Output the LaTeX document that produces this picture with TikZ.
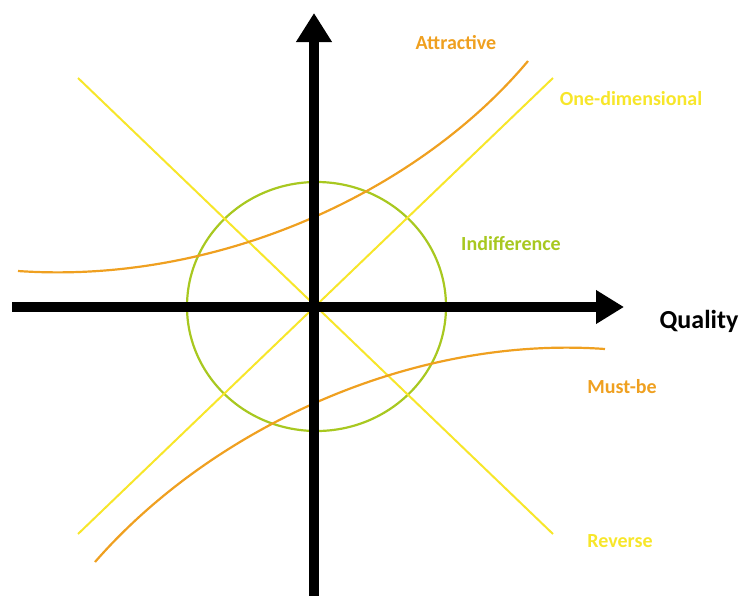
\documentclass[tikz,border=0pt]{standalone}
\usepackage{fontspec}
\setmainfont{Carlito}
\usetikzlibrary{arrows.meta}
\definecolor{kanoorange}{HTML}{EFA020}
\definecolor{kanoyellow}{HTML}{F7E62A}
\definecolor{kanogreen}{HTML}{A8C820}
\tikzset{
  axis/.style={line width=10pt, black},
  curveline/.style={line width=2.2pt, kanoorange},
  straightline/.style={line width=2pt, kanoyellow},
  lbl/.style={font=\bfseries\fontsize{20}{22}\selectfont, inner sep=0pt}
}
\begin{document}
\begin{tikzpicture}[x=1pt,y=-1pt]
\useasboundingbox (0,0) rectangle (741,595);
% axis ends
\coordinate (xl) at (12,307);
\coordinate (xr) at (624,307);
\coordinate (yb) at (314,600);
\coordinate (yt) at (314,13);
\coordinate (o) at (316.5,306.5);
% indifference circle
\draw[kanogreen, line width=2.2pt] (o) ellipse [x radius=129.5, y radius=124.5];
% one-dimensional and reverse lines
\coordinate (od1) at (78,534);
\coordinate (od2) at (553,78);
\coordinate (rv1) at (78,78);
\coordinate (rv2) at (553,534);
\draw[straightline] (od1) -- (od2);
\draw[straightline] (rv1) -- (rv2);
% attractive and must-be curves
\coordinate (at1) at (18,271);
\coordinate (at2) at (528,61);
\coordinate (mb1) at (95,562);
\coordinate (mb2) at (605,349);
\draw[curveline] (at1) .. controls (220,285) and (420,190) .. (at2);
\draw[curveline] (mb1) .. controls (210,430) and (410,335) .. (mb2);
% axes
\draw[axis, -{Triangle[length=28pt, width=32pt]}] (xl) -- (xr);
\draw[axis, -{Triangle[length=29pt, width=34pt]}] (yb) -- (yt);
% labels
\node[lbl, text=kanoorange] (attr) at (456,43) {Attractive};
\node[lbl, text=kanoyellow] (onedim) at (631,99) {One-dimensional};
\node[lbl, text=kanogreen] (indiff) at (511,244) {Indifference};
\node[lbl, text=black, font=\bfseries\fontsize{26}{28}\selectfont] (qual) at (699,321) {Quality};
\node[lbl, text=kanoorange] (mustbe) at (622,387) {Must-be};
\node[lbl, text=kanoyellow] (rev) at (620,541) {Reverse};
\end{tikzpicture}
\end{document}
